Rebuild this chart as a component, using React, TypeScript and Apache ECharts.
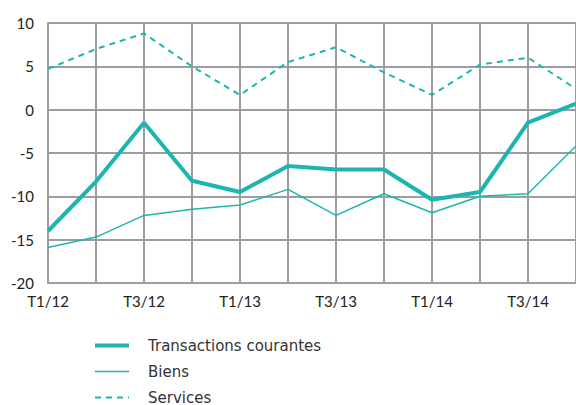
import React, { useEffect, useRef } from "react";
import * as echarts from "echarts";

const categories = ["T1/12", "T2/12", "T3/12", "T4/12", "T1/13", "T2/13", "T3/13", "T4/13", "T1/14", "T2/14", "T3/14", "T4/14"];
const transactions = [-14.0, -8.3, -1.5, -8.2, -9.5, -6.5, -6.9, -6.9, -10.4, -9.5, -1.5, 0.7];
const biens = [-15.9, -14.7, -12.2, -11.5, -11.0, -9.2, -12.2, -9.7, -11.9, -10.0, -9.7, -4.2];
const services = [4.7, 7.0, 8.8, 5.0, 1.7, 5.5, 7.2, 4.3, 1.7, 5.2, 6.0, 2.4];
const yTicks = { min: -20, max: 10, interval: 5 };

const COLOR = "#1db5af";
const GRID = "#9d9da1";
const FONT = "Lato, 'DejaVu Sans', sans-serif";

export default function App() {
  const ref = useRef<HTMLDivElement>(null);
  useEffect(() => {
    if (!ref.current) return;
    const chart = echarts.init(ref.current, undefined, { renderer: "svg" });
    chart.setOption({
      animation: false,
      grid: { left: 48, right: 0, top: 23, bottom: 122, containLabel: false },
      legend: {
        orient: "vertical",
        left: 93,
        top: 338,
        height: 80,
        padding: 0,
        itemWidth: 34,
        itemHeight: 14,
        itemGap: 11,
        itemStyle: { opacity: 0 },
        textStyle: { fontSize: 15, color: "#333", fontFamily: "'DejaVu Sans', sans-serif", padding: [0, 0, 0, 14] },
        data: [
          { name: "Transactions courantes", lineStyle: { width: 4, color: COLOR } },
          { name: "Biens", lineStyle: { width: 1.5, color: COLOR } },
          { name: "Services", lineStyle: { width: 2, color: COLOR, type: [6, 5] } },
        ],
      },
      xAxis: {
        type: "category",
        data: categories,
        boundaryGap: false,
        axisLine: { show: true, lineStyle: { color: GRID, width: 2 } },
        axisTick: { show: false },
        axisLabel: { interval: 1, color: "#222", fontSize: 15, fontFamily: FONT, margin: 10 },
        splitLine: { show: true, interval: 0, lineStyle: { color: GRID, width: 2 } },
      },
      yAxis: {
        type: "value",
        min: yTicks.min,
        max: yTicks.max,
        interval: yTicks.interval,
        axisLine: { show: true, lineStyle: { color: GRID, width: 2 } },
        axisTick: { show: false },
        axisLabel: { color: "#222", fontSize: 15, fontFamily: FONT, margin: 14 },
        splitLine: { show: true, lineStyle: { color: GRID, width: 2 } },
      },
      series: [
        {
          name: "Transactions courantes",
          type: "line",
          data: transactions,
          symbol: "none",
          lineStyle: { color: COLOR, width: 4 },
          itemStyle: { color: COLOR },
          z: 5,
        },
        {
          name: "Biens",
          type: "line",
          data: biens,
          symbol: "none",
          lineStyle: { color: COLOR, width: 1.5 },
          itemStyle: { color: COLOR },
          z: 4,
        },
        {
          name: "Services",
          type: "line",
          data: services,
          symbol: "none",
          lineStyle: { color: COLOR, width: 2, type: [6, 5] },
          itemStyle: { color: COLOR },
          z: 3,
        },
      ],
    });
    return () => chart.dispose();
  }, []);
  return <div ref={ref} style={{ position: "fixed", left: 0, top: 0, width: 576, height: 405, background: "#fff" }} />;
}
